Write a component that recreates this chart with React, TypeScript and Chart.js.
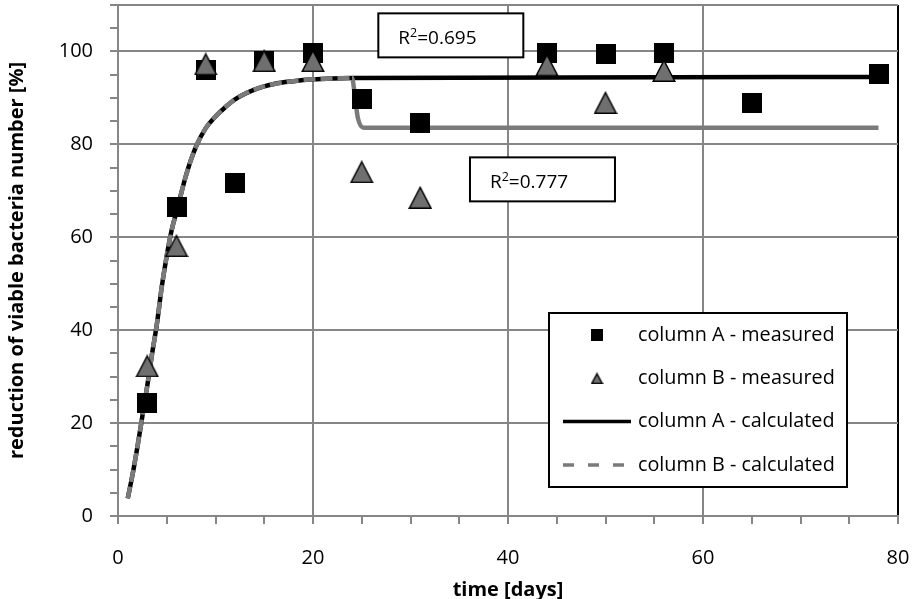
import React, { useEffect, useRef } from 'react';
import { Chart, registerables } from 'chart.js';
Chart.register(...registerables);

// ---- data ----
const measuredDaysA = [3, 6, 9, 12, 15, 20, 25, 31, 44, 50, 56, 65, 78];
const measuredA = [24.4, 66.6, 96, 71.6, 98, 99.7, 89.8, 84.6, 99.7, 99.4, 99.7, 88.9, 95.1];
const measuredDaysB = [3, 6, 9, 15, 20, 25, 31, 44, 50, 56];
const measuredB = [32.3, 58.2, 97.3, 98, 98, 74.1, 68.6, 97.1, 89, 95.9];

const curveDays = [1, 1.5, 2, 2.5, 3, 3.5, 4, 4.5, 5, 5.5, 6, 7, 8, 9, 10, 11, 12, 14, 16, 18, 20, 22, 24];
const curveValues = [3.8, 9, 15, 21.5, 28, 35, 41.5, 49.5, 56, 61.5, 65.5, 73.5, 79.5, 83.5, 86, 88, 89.7, 91.8, 93, 93.6, 94, 94.2, 94.3];
const tailDaysA = [78];
const tailValuesA = [94.5];
const tailDaysB = [24.3, 24.6, 25.2, 78];
const tailValuesB = [90.4, 85.7, 83.6, 83.6];

const xTicks = { min: 0, max: 80, step: 5, labelEvery: 20 };
const yTicks = { min: 0, max: 110, step: 5, labelEvery: 20 };

const r2Labels = [
  { text: '0.695', day: 26.7, value: 108.2 },
  { text: '0.777', day: 36.1, value: 77.2 },
];

const legendItems = [
  { label: 'column A - measured', kind: 'square' },
  { label: 'column B - measured', kind: 'triangle' },
  { label: 'column A - calculated', kind: 'solid' },
  { label: 'column B - calculated', kind: 'dashed' },
];

const FONT = "'Open Sans', sans-serif";
const GRID = '#868686';
const TRI_FILL = '#6f6f6f';
const LINE_B = '#7a7a7a';

function pts(xs: number[], ys: number[]) {
  return xs.map((x, i) => ({ x, y: ys[i] }));
}

function makeSquare(size: number) {
  const c = document.createElement('canvas');
  c.width = size; c.height = size;
  const g = c.getContext('2d')!;
  g.fillStyle = '#000';
  g.fillRect(0, 0, size, size);
  return c;
}

function makeTriangle(w: number, h: number, lw: number) {
  const c = document.createElement('canvas');
  c.width = w; c.height = h;
  const g = c.getContext('2d')!;
  g.beginPath();
  g.moveTo(w / 2, lw);
  g.lineTo(w - lw * 0.8, h - lw / 2);
  g.lineTo(lw * 0.8, h - lw / 2);
  g.closePath();
  g.fillStyle = TRI_FILL;
  g.fill();
  g.lineWidth = lw;
  g.lineJoin = 'miter';
  g.strokeStyle = '#000';
  g.stroke();
  return c;
}

const overlayPlugin = {
  id: 'overlay',
  afterDraw(chart: any) {
    const ctx = chart.ctx as CanvasRenderingContext2D;
    const xs = chart.scales.x;
    const ys = chart.scales.y;
    const ca = chart.chartArea;
    ctx.save();
    // R² boxes
    r2Labels.forEach((r) => {
      const left = xs.getPixelForValue(r.day);
      const top = ys.getPixelForValue(r.value);
      const w = 145, h = 44;
      ctx.fillStyle = '#fff';
      ctx.fillRect(left, top, w, h);
      ctx.lineWidth = 2;
      ctx.strokeStyle = '#000';
      ctx.strokeRect(left, top, w, h);
      ctx.fillStyle = '#000';
      ctx.textBaseline = 'alphabetic';
      ctx.textAlign = 'left';
      let tx = left + 20;
      const by = top + 31;
      ctx.font = `19px ${FONT}`;
      ctx.fillText('R', tx, by);
      tx += ctx.measureText('R').width;
      ctx.font = `12.5px ${FONT}`;
      ctx.fillText('2', tx, by - 7.5);
      tx += ctx.measureText('2').width;
      ctx.font = `19px ${FONT}`;
      ctx.fillText('=' + r.text, tx, by);
    });

    // Legend
    const lx = ca.left + 431;
    const ly = ca.top + 308;
    const lw = 298, lh = 174;
    ctx.fillStyle = '#fff';
    ctx.fillRect(lx, ly, lw, lh);
    ctx.lineWidth = 2;
    ctx.strokeStyle = '#000';
    ctx.strokeRect(lx, ly, lw, lh);
    const sq = makeSquare(12);
    const tri = makeTriangle(13, 12, 1.5);
    legendItems.forEach((it, i) => {
      const cy = ly + 22 + i * 43.3;
      const mx = lx + 48;
      if (it.kind === 'square') {
        ctx.drawImage(sq, mx - 6, cy - 6);
      } else if (it.kind === 'triangle') {
        ctx.drawImage(tri, mx - 6.5, cy - 6);
      } else {
        ctx.beginPath();
        ctx.moveTo(lx + 14, cy);
        ctx.lineTo(lx + 82, cy);
        ctx.lineWidth = 3.5;
        if (it.kind === 'solid') {
          ctx.strokeStyle = '#000';
          ctx.setLineDash([]);
        } else {
          ctx.strokeStyle = LINE_B;
          ctx.setLineDash([11, 14]);
        }
        ctx.lineCap = 'butt';
        ctx.stroke();
        ctx.setLineDash([]);
      }
      ctx.fillStyle = '#000';
      ctx.font = `19.8px ${FONT}`;
      ctx.textAlign = 'left';
      ctx.textBaseline = 'middle';
      ctx.fillText(it.label, lx + 89, cy);
    });
    ctx.restore();
  },
};

export default function App() {
  const ref = useRef<HTMLCanvasElement | null>(null);
  useEffect(() => {
    if (!ref.current) return;
    const squareImg = makeSquare(20);
    const triImg = makeTriangle(24, 23, 1.5);

    const chart = new Chart(ref.current, {
      type: 'scatter',
      data: {
        datasets: [
          {
            label: 'column B - measured',
            data: pts(measuredDaysB, measuredB),
            pointStyle: triImg as any,
            pointRadius: 10,
            order: 0,
          },
          {
            label: 'column A - measured',
            data: pts(measuredDaysA, measuredA),
            pointStyle: squareImg as any,
            pointRadius: 10,
            order: 1,
          },
          {
            label: 'column B - calculated',
            data: pts([...curveDays, ...tailDaysB], [...curveValues, ...tailValuesB]),
            showLine: true,
            pointRadius: 0,
            borderColor: LINE_B,
            borderWidth: 4.5,
            borderCapStyle: 'butt',
            cubicInterpolationMode: 'monotone',
            segment: {
              borderDash: (c: any) => (c.p0.parsed.x >= 24 ? [] : [12, 5]),
            },
            order: 2,
          } as any,
          {
            label: 'column A - calculated',
            data: pts([...curveDays, ...tailDaysA], [...curveValues, ...tailValuesA]),
            showLine: true,
            pointRadius: 0,
            borderColor: '#000',
            borderWidth: 4.5,
            cubicInterpolationMode: 'monotone',
            order: 3,
          } as any,
        ],
      },
      options: {
        animation: false,
        responsive: false,
        maintainAspectRatio: false,
        layout: { autoPadding: false, padding: { top: 5, right: 18, left: 0, bottom: 0 } },
        plugins: { legend: { display: false }, tooltip: { enabled: false } },
        scales: {
          x: {
            type: 'linear',
            min: xTicks.min,
            max: xTicks.max,
            afterFit: (s: any) => { s.height = 83; s.paddingLeft = 0; s.paddingRight = 0; },
            ticks: {
              stepSize: xTicks.step,
              autoSkip: false,
              maxRotation: 0,
              padding: 22,
              color: '#000',
              font: { family: FONT, size: 20 },
              callback: (v: any) => (v % xTicks.labelEvery === 0 ? String(v) : ''),
            },
            grid: {
              color: (c: any) => (c.tick && c.tick.value % xTicks.labelEvery === 0 ? (c.tick.value === xTicks.max ? '#000' : GRID) : 'rgba(0,0,0,0)'),
              tickColor: GRID,
              lineWidth: 2,
              tickLength: 8,
            },
            border: { color: GRID, width: 2 },
            title: {
              display: true,
              text: 'time [days]',
              color: '#000',
              font: { family: FONT, size: 20, weight: 'bold', lineHeight: 1.1 },
              padding: { top: 0, bottom: -2 },
            },
          },
          y: {
            type: 'linear',
            min: yTicks.min,
            max: yTicks.max,
            afterFit: (s: any) => { s.width = 118; s.paddingTop = 0; s.paddingBottom = 0; },
            ticks: {
              stepSize: yTicks.step,
              autoSkip: false,
              padding: 17,
              color: '#000',
              font: { family: FONT, size: 20 },
              callback: (v: any) => (v % yTicks.labelEvery === 0 ? String(v) : ''),
            },
            grid: {
              color: (c: any) => (c.tick && (c.tick.value % yTicks.labelEvery === 0 || c.tick.value === yTicks.max) ? GRID : 'rgba(0,0,0,0)'),
              tickColor: GRID,
              lineWidth: 2,
              tickLength: 8,
            },
            border: { color: GRID, width: 2 },
            title: {
              display: true,
              text: 'reduction of viable bacteria number [%]',
              color: '#000',
              font: { family: FONT, size: 20, weight: 'bold', lineHeight: 1.1 },
              padding: { top: 6, bottom: 0 },
            },
          },
        },
      } as any,
      plugins: [overlayPlugin],
    });
    return () => chart.destroy();
  }, []);

  return (
    <div style={{ position: 'absolute', left: 0, top: 0, width: 916, height: 599, background: '#fff' }}>
      <canvas ref={ref} width={916} height={599} style={{ width: 916, height: 599, display: 'block' }} />
    </div>
  );
}
